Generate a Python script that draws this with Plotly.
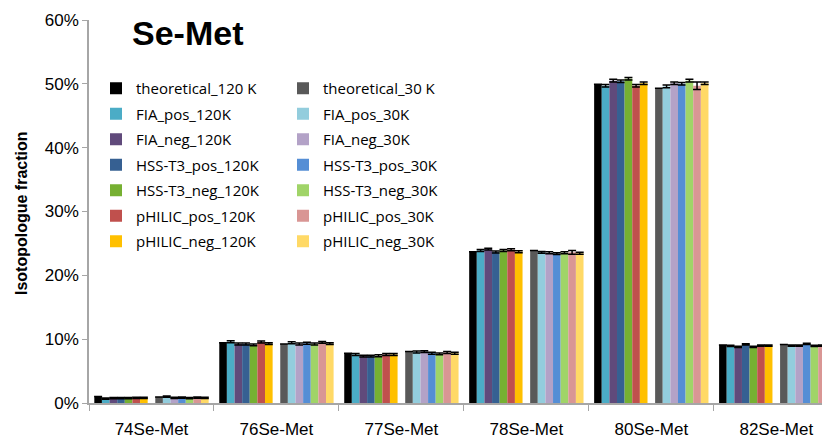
import plotly.graph_objects as go

categories = ["74Se-Met", "76Se-Met", "77Se-Met", "78Se-Met", "80Se-Met", "82Se-Met"]

names_120 = ["theoretical_120 K", "FIA_pos_120K", "FIA_neg_120K", "HSS-T3_pos_120K",
             "HSS-T3_neg_120K", "pHILIC_pos_120K", "pHILIC_neg_120K"]
names_30 = ["theoretical_30 K", "FIA_pos_30K", "FIA_neg_30K", "HSS-T3_pos_30K",
            "HSS-T3_neg_30K", "pHILIC_pos_30K", "pHILIC_neg_30K"]

colors_120 = ["#000000", "#4BACC6", "#604A7B", "#366092", "#76B032", "#C0504D", "#FFC000"]
colors_30 = ["#595959", "#93CDDD", "#B3A2C7", "#558ED5", "#A0D468", "#D99694", "#FFD966"]

# values in percent
theo_120 = [1.0, 9.45, 7.8, 23.7, 49.95, 9.1]
fia_pos_120 = [0.7, 9.6, 7.6, 23.9, 49.7, 8.95]
fia_neg_120 = [0.75, 9.25, 7.35, 24.1, 50.5, 8.8]
hss_pos_120 = [0.75, 9.25, 7.35, 23.65, 50.4, 9.2]
hss_neg_120 = [0.75, 9.1, 7.4, 23.9, 50.8, 8.8]
phil_pos_120 = [0.8, 9.55, 7.6, 24.0, 49.7, 9.0]
phil_neg_120 = [0.8, 9.3, 7.6, 23.7, 50.1, 9.0]

theo_30 = [0.95, 9.25, 8.05, 23.9, 49.3, 9.15]
fia_pos_30 = [1.0, 9.45, 8.0, 23.6, 49.6, 9.0]
fia_neg_30 = [0.8, 9.25, 8.05, 23.55, 50.1, 9.0]
hss_pos_30 = [0.85, 9.35, 7.8, 23.4, 50.0, 9.25]
hss_neg_30 = [0.75, 9.25, 7.7, 23.55, 50.5, 8.95]
phil_pos_30 = [0.85, 9.5, 7.9, 23.6, 49.7, 9.0]
phil_neg_30 = [0.8, 9.3, 7.8, 23.45, 50.1, 9.0]

err_theo = [0, 0, 0, 0, 0, 0]
err_120 = [0.1, 0.15, 0.15, 0.15, 0.2, 0.1]
err_30 = [0.1, 0.15, 0.15, 0.15, 0.2, 0.1]
err_phil_pos_30 = [0.1, 0.15, 0.15, 0.3, 0.6, 0.1]

series_120 = [theo_120, fia_pos_120, fia_neg_120, hss_pos_120, hss_neg_120, phil_pos_120, phil_neg_120]
series_30 = [theo_30, fia_pos_30, fia_neg_30, hss_pos_30, hss_neg_30, phil_pos_30, phil_neg_30]
errs_120 = [err_theo, err_120, err_120, err_120, err_120, err_120, err_120]
errs_30 = [err_theo, err_30, err_30, err_30, err_30, err_phil_pos_30, err_30]

fig = go.Figure()


def add_bar(name, vals, color, err, legend, rank):
    fig.add_trace(go.Bar(
        x=categories, y=vals, name=name,
        marker=dict(color=color, line=dict(width=0)),
        error_y=dict(type="data", array=err, visible=True, color="#000000",
                     thickness=1.5, width=4),
        legend=legend, legendgroup=name, legendrank=rank,
    ))


for i in range(7):
    add_bar(names_120[i], series_120[i], colors_120[i], errs_120[i], "legend", i)

# spacer between 120K and 30K groups
fig.add_trace(go.Bar(x=categories, y=[0] * len(categories), showlegend=False,
                     marker=dict(color="rgba(0,0,0,0)", line=dict(width=0)),
                     hoverinfo="skip"))

for i in range(7):
    add_bar(names_30[i], series_30[i], colors_30[i], errs_30[i], "legend2", i)

axis_col = "#A6A6A6"
leg_font = dict(family="Open Sans", size=15, color="#000000")

# page body margin offset (figure is drawn 8px in from the page corner)
OFF = 8
PLOT_L, PLOT_T, PLOT_B, PLOT_R = 89, 20, 403, 830
W, H = 830 - OFF, 440 - OFF
plot_w = PLOT_R - PLOT_L
plot_h = PLOT_B - PLOT_T


def px_x(x):
    return (x - PLOT_L) / plot_w


def px_y(y):
    return 1 - (y - PLOT_T) / plot_h


fig.update_layout(
    width=W, height=H,
    margin=dict(l=PLOT_L - OFF, r=W - (PLOT_R - OFF), t=PLOT_T - OFF, b=H - (PLOT_B - OFF)),
    paper_bgcolor="white", plot_bgcolor="white",
    barmode="group", bargap=0.085, bargroupgap=0,
    font=dict(family="Liberation Sans", color="#000000"),
    xaxis=dict(range=[-0.5, 5.43], showline=True, linecolor=axis_col, linewidth=1.5,
               ticks="outside", tickson="boundaries", ticklen=6, tickcolor=axis_col,
               tickfont=dict(size=17, family="Liberation Sans"), ticklabelstandoff=10,
               showgrid=False, zeroline=False, automargin=False),
    yaxis=dict(range=[0, 60], dtick=10, ticksuffix="%", showline=True, linecolor=axis_col,
               linewidth=1.5, ticks="outside", ticklen=5, tickcolor=axis_col,
               tickfont=dict(size=17, family="Liberation Sans"), showgrid=False,
               zeroline=False, automargin=False),
    legend=dict(x=px_x(96), xanchor="left", y=px_y(72), yanchor="top", bgcolor="rgba(0,0,0,0)",
                font=leg_font, tracegroupgap=3, itemwidth=30),
    legend2=dict(x=px_x(283), xanchor="left", y=px_y(72), yanchor="top", bgcolor="rgba(0,0,0,0)",
                 font=leg_font, tracegroupgap=3, itemwidth=30),
    showlegend=True,
    annotations=[
        dict(text="<b>Se-Met</b>", xref="paper", yref="paper",
             x=px_x(130), y=px_y(33), xanchor="left", yanchor="middle",
             showarrow=False, font=dict(size=34, family="Liberation Sans", color="#000000")),
        dict(text="<b>Isotopologue fraction</b>", xref="paper", yref="paper",
             x=px_x(21), y=px_y(213), xanchor="center", yanchor="middle",
             textangle=-90, showarrow=False,
             font=dict(size=16, family="Liberation Sans", color="#000000")),
    ],
)

fig.write_html("out.html")
